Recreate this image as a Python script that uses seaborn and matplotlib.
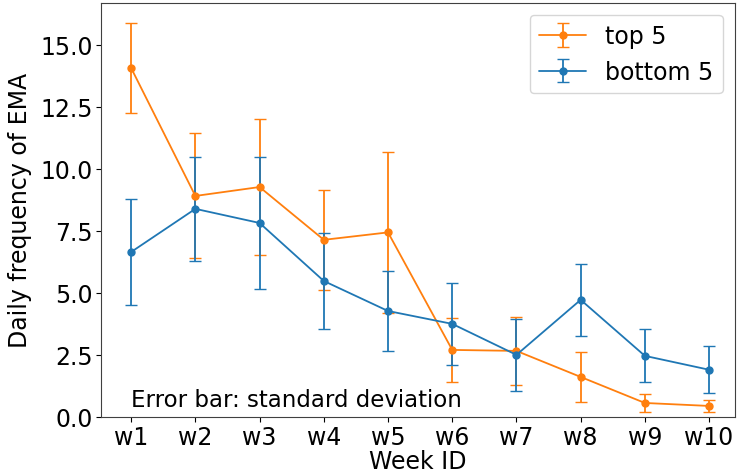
import numpy as np
import matplotlib
matplotlib.use('Agg')
import matplotlib.pyplot as plt
import seaborn as sns

weeks = ['w1', 'w2', 'w3', 'w4', 'w5', 'w6', 'w7', 'w8', 'w9', 'w10']
top5_mean = [14.07, 8.91, 9.27, 7.14, 7.44, 2.70, 2.66, 1.61, 0.56, 0.44]
top5_std = [1.81, 2.52, 2.75, 2.02, 3.25, 1.30, 1.37, 1.01, 0.35, 0.25]
bottom5_mean = [6.65, 8.39, 7.82, 5.48, 4.27, 3.75, 2.50, 4.72, 2.46, 1.90]
bottom5_std = [2.13, 2.10, 2.66, 1.94, 1.63, 1.65, 1.45, 1.45, 1.07, 0.95]

sns.set_style('ticks', {'text.color': 'black', 'axes.labelcolor': 'black',
                        'xtick.color': 'black', 'ytick.color': 'black',
                        'axes.edgecolor': '0.25'})
colors = sns.color_palette('tab10')

fig = plt.figure(figsize=(7.37, 4.77), dpi=100)
ax = fig.add_axes([0.137, 0.124, 0.86, 0.868])

x = np.arange(len(weeks))
ax.errorbar(x, top5_mean, yerr=top5_std, color=colors[1], marker='o', markersize=5,
            linewidth=1.3, capsize=4, label='top 5')
ax.errorbar(x, bottom5_mean, yerr=bottom5_std, color=colors[0], marker='o', markersize=5,
            linewidth=1.3, capsize=4, label='bottom 5')

ax.set_xticks(x)
ax.set_xticklabels(weeks)
ax.set_xlim(-0.47, 9.4)
ax.set_ylim(0, 16.7)
ax.set_yticks([0, 2.5, 5, 7.5, 10, 12.5, 15])
ax.set_yticklabels(['0.0', '2.5', '5.0', '7.5', '10.0', '12.5', '15.0'])
ax.tick_params(labelsize=17, pad=2.5)
ax.set_xlabel('Week ID', fontsize=17, labelpad=0)
ax.set_ylabel('Daily frequency of EMA', fontsize=17, labelpad=6)
ax.text(0.047, 0.027, 'Error bar: standard deviation', transform=ax.transAxes, fontsize=16.5)
ax.legend(fontsize=17, loc='upper right')

plt.savefig('out.png', dpi=100)
